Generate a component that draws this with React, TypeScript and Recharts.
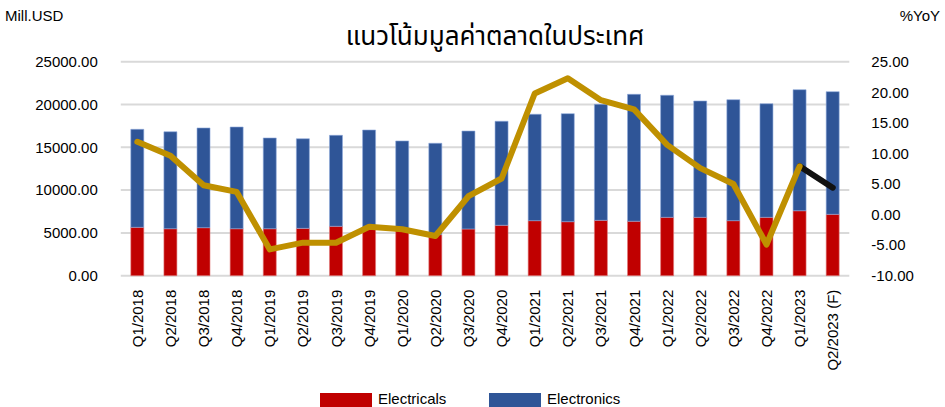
import React from 'react';
import { ComposedChart, Bar, Line, XAxis, YAxis, CartesianGrid } from 'recharts';

const categories = [
  'Q1/2018', 'Q2/2018', 'Q3/2018', 'Q4/2018',
  'Q1/2019', 'Q2/2019', 'Q3/2019', 'Q4/2019',
  'Q1/2020', 'Q2/2020', 'Q3/2020', 'Q4/2020',
  'Q1/2021', 'Q2/2021', 'Q3/2021', 'Q4/2021',
  'Q1/2022', 'Q2/2022', 'Q3/2022', 'Q4/2022',
  'Q1/2023', 'Q2/2023 (F)',
];

const electricals = [
  5650, 5490, 5610, 5490,
  5490, 5530, 5770, 5500,
  5450, 4800, 5460, 5890,
  6430, 6310, 6470, 6360,
  6820, 6820, 6430, 6820,
  7590, 7170,
];

const electronics = [
  11450, 11330, 11650, 11880,
  10600, 10470, 10630, 11520,
  10290, 10670, 11440, 12150,
  12430, 12620, 13550, 14830,
  14260, 13590, 14130, 13270,
  14140, 14330,
];

// %YoY, last point is the forecast
const yoy = [
  11.9, 9.6, 4.8, 3.7,
  -5.7, -4.6, -4.6, -2.0,
  -2.4, -3.5, 3.0, 5.9,
  19.8, 22.3, 18.7, 17.2,
  11.4, 7.6, 5.0, -4.9,
  7.9, 4.4,
];

const leftTicks = [0, 5000, 10000, 15000, 20000, 25000];
const rightTicks = [-10, -5, 0, 5, 10, 15, 20, 25];

const data = categories.map((q, i) => ({
  q,
  electricals: electricals[i],
  electronics: electronics[i],
  actual: i < yoy.length - 1 ? yoy[i] : null,
  forecast: i >= yoy.length - 2 ? yoy[i] : null,
}));

const font = 'Arial, "Liberation Sans", sans-serif';

const XTick = (props: any) => {
  const { x, y, payload } = props;
  return (
    <text
      x={x}
      y={y}
      transform={`rotate(-90 ${x} ${y})`}
      textAnchor="end"
      dominantBaseline="central"
      fontSize={15}
      fontFamily={font}
      fill="#000"
    >
      {payload.value}
    </text>
  );
};

const App: React.FC = () => {
  return (
    <div style={{ position: 'absolute', left: 0, top: 0, width: 945, height: 407, background: '#fff', fontFamily: font }}>
      <div style={{ position: 'absolute', left: 5, top: 7, fontSize: 15, color: '#000' }}>Mill.USD</div>
      <div style={{ position: 'absolute', right: 5, top: 7, fontSize: 15, color: '#000' }}>%YoY</div>
      <div
        style={{
          position: 'absolute', left: 0, width: 990, top: 17, textAlign: 'center',
          fontSize: 26, color: '#000', fontFamily: '"Noto Sans Thai", "Noto Serif Thai", Tahoma, sans-serif',
        }}
      >
        แนวโน้มมูลค่าตลาดในประเทศ
      </div>
      <ComposedChart
        width={945}
        height={407}
        data={data}
        margin={{ top: 61.7, right: 0, bottom: 0, left: 0 }}
      >
        <CartesianGrid yAxisId="left" vertical={false} stroke="#d9d9d9" strokeWidth={2} />
        <XAxis
          dataKey="q"
          height={131.3}
          interval={0}
          axisLine={false}
          tickLine={false}
          tickSize={0}
          tickMargin={14}
          tick={<XTick />}
        />
        <YAxis
          yAxisId="left"
          width={120.8}
          domain={[0, 25000]}
          ticks={leftTicks}
          axisLine={false}
          tickLine={false}
          tickSize={0}
          tickMargin={23}
          tickFormatter={(v: number) => v.toFixed(2)}
          tick={{ fontSize: 15, fill: '#000', fontFamily: font }}
        />
        <YAxis
          yAxisId="right"
          orientation="right"
          width={95.7}
          domain={[-10, 25]}
          ticks={rightTicks}
          axisLine={false}
          tickLine={false}
          tickSize={0}
          tickMargin={22}
          tickFormatter={(v: number) => v.toFixed(2)}
          tick={{ fontSize: 15, fill: '#000', fontFamily: font, textAnchor: 'start' }}
        />
        <Bar yAxisId="left" dataKey="electricals" stackId="a" barSize={13} fill="#C00000" stroke="#e07a7a" strokeWidth={0.6} isAnimationActive={false} />
        <Bar yAxisId="left" dataKey="electronics" stackId="a" barSize={13} fill="#2F5597" stroke="#8faadc" strokeWidth={0.6} isAnimationActive={false} />
        <Line
          yAxisId="right"
          dataKey="forecast"
          stroke="#111111"
          strokeWidth={6}
          strokeLinejoin="round"
          strokeLinecap="round"
          dot={false}
          activeDot={false}
          isAnimationActive={false}
        />
        <Line
          yAxisId="right"
          dataKey="actual"
          stroke="#BF9000"
          strokeWidth={6}
          strokeLinejoin="round"
          strokeLinecap="round"
          dot={false}
          activeDot={false}
          isAnimationActive={false}
        />
      </ComposedChart>
      <div style={{ position: 'absolute', left: 320, top: 393, width: 52, height: 14, background: '#C00000' }} />
      <div style={{ position: 'absolute', left: 378, top: 390, fontSize: 15, color: '#000' }}>Electricals</div>
      <div style={{ position: 'absolute', left: 489, top: 393, width: 52, height: 14, background: '#2F5597' }} />
      <div style={{ position: 'absolute', left: 547, top: 390, fontSize: 15, color: '#000' }}>Electronics</div>
    </div>
  );
};

export default App;
